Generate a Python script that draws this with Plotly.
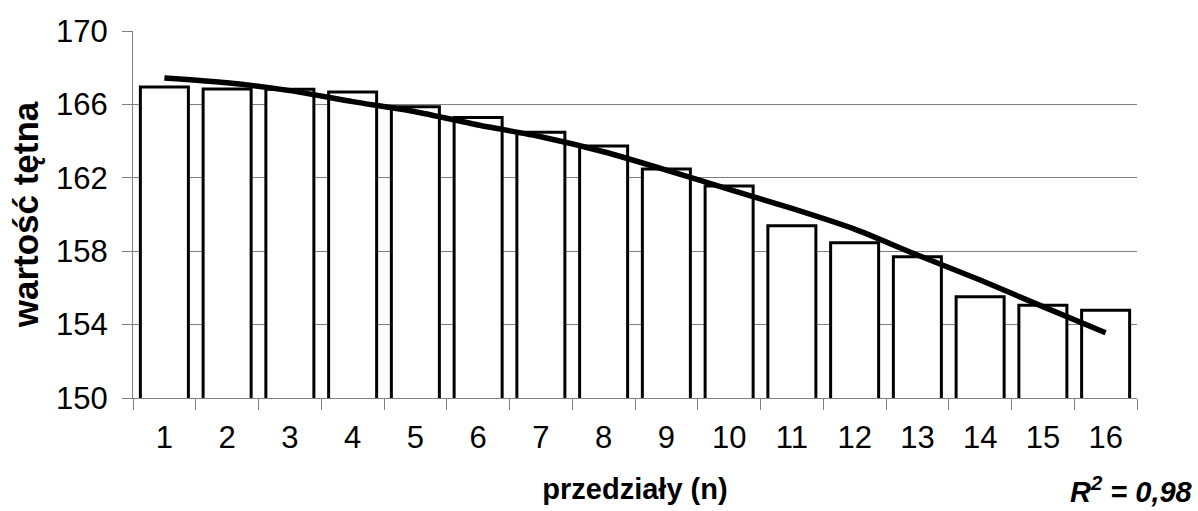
import plotly.graph_objects as go

categories = [str(i) for i in range(1, 17)]
bar_values = [166.95, 166.84, 166.82, 166.68, 165.87, 165.28, 164.48, 163.73,
              162.48, 161.55, 159.39, 158.46, 157.70, 155.52, 155.05, 154.78]
trend_values = [167.44, 167.18, 166.75, 166.15, 165.60, 164.88, 164.24, 163.42,
                162.42, 161.37, 160.33, 159.20, 157.79, 156.43, 154.98, 153.56]
y_ticks = [150, 154, 158, 162, 166, 170]
grid_ticks = [154, 158, 162, 166]

FONT = "Liberation Sans, Arial, sans-serif"
GRAY = "#808080"

fig = go.Figure()
fig.add_trace(go.Bar(
    x=categories, y=bar_values,
    marker=dict(color="white", line=dict(color="black", width=3)),
    showlegend=False,
))
fig.add_trace(go.Scatter(
    x=categories, y=trend_values, mode="lines",
    line=dict(color="black", width=5.5, shape="spline", smoothing=0.6),
    showlegend=False,
))
# grid-only overlay axis (no gridline at 170)
fig.add_trace(go.Scatter(x=[categories[0]], y=[160], yaxis="y2", mode="markers",
                         marker=dict(opacity=0, size=1), showlegend=False, hoverinfo="skip"))

fig.update_layout(
    width=1198, height=511,
    margin=dict(l=133, r=61, t=31, b=113),
    paper_bgcolor="white", plot_bgcolor="rgba(0,0,0,0)",
    bargap=0.235,
    font=dict(family=FONT, color="black"),
    xaxis=dict(
        type="category", range=[-0.5, len(categories) - 0.5], autorange=False,
        tickson="boundaries", ticks="outside", ticklen=11,
        tickcolor=GRAY, showline=True, linecolor=GRAY, linewidth=1, automargin=False,
        showgrid=False, tickfont=dict(size=31), ticklabelstandoff=12,
        title=dict(text="<b>przedziały (n)</b>", font=dict(size=29), standoff=24),
    ),
    yaxis=dict(
        range=[150, 170], tickvals=y_ticks, ticks="outside", ticklen=10, automargin=False,
        tickcolor=GRAY, showline=True, linecolor=GRAY, linewidth=1,
        showgrid=False, zeroline=False, tickfont=dict(size=31), ticklabelstandoff=8,
        title=dict(text="<b>wartość tętna</b>", font=dict(size=35), standoff=6),
    ),
    yaxis2=dict(
        range=[150, 170], overlaying="y", tickvals=grid_ticks, showticklabels=False,
        showgrid=True, gridcolor=GRAY, gridwidth=1, zeroline=False, layer="below traces",
        automargin=False,
    ),
    annotations=[dict(
        text="<b><i>R<sup>2</sup> = 0,98</i></b>", xref="paper", yref="paper",
        x=1.058, y=-0.25, xanchor="right", yanchor="middle", showarrow=False,
        font=dict(size=29, family=FONT),
    )],
)

fig.write_html("out.html", config={"displayModeBar": False},
               post_script="document.body.style.margin='0';document.body.style.overflow='hidden';")
